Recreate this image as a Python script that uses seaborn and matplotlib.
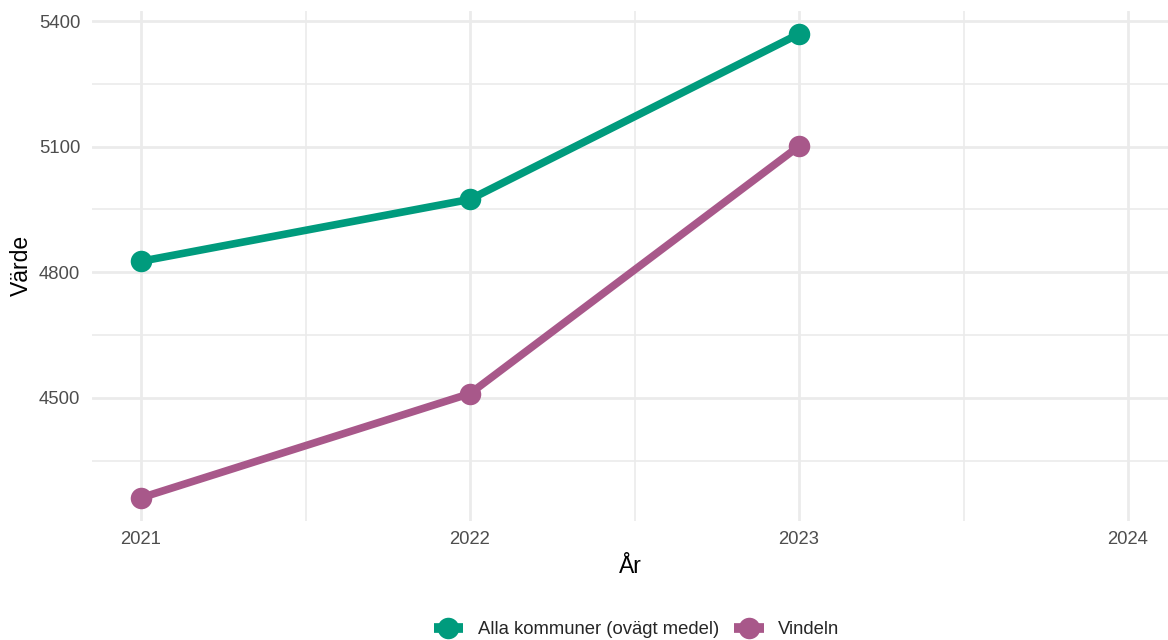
import matplotlib
matplotlib.use("Agg")
import matplotlib.pyplot as plt
import seaborn as sns
import pandas as pd
from matplotlib.ticker import FixedLocator
from matplotlib.lines import Line2D

years = [2021, 2022, 2023]
alla = [4826, 4974, 5369]
vindeln = [4261, 4510, 5101]
series_names = ["Alla kommuner (ovägt medel)", "Vindeln"]
colors = ["#009B7D", "#A8588A"]
x_ticks = [2021, 2022, 2023, 2024]
y_ticks = [4500, 4800, 5100, 5400]

df = pd.DataFrame({
    "År": years * 2,
    "Värde": alla + vindeln,
    "Serie": [series_names[0]] * 3 + [series_names[1]] * 3,
})

sns.set_theme(style="whitegrid")
plt.rcParams["font.family"] = ["Liberation Sans", "DejaVu Sans"]

fig = plt.figure(figsize=(11.68, 6.4), dpi=100)
ax = fig.add_axes([92 / 1168, 1 - 521 / 640, (1168 - 92) / 1168, (521 - 10.8) / 640])

sns.lineplot(data=df, x="År", y="Värde", hue="Serie", palette=colors,
             linewidth=5.5, marker="o", markersize=15.5, markeredgewidth=0,
             ax=ax, legend=False)

ax.set_xlim(2021 - 49 / 329, 2024 + 40 / 329)
ax.set_ylim(4205.6, 5424.4)
ax.xaxis.set_major_locator(FixedLocator(x_ticks))
ax.yaxis.set_major_locator(FixedLocator(y_ticks))
ax.xaxis.set_minor_locator(FixedLocator([2021.5, 2022.5, 2023.5]))
ax.yaxis.set_minor_locator(FixedLocator([4350, 4650, 4950, 5250]))
ax.set_xticklabels([str(t) for t in x_ticks])
ax.set_yticklabels([str(t) for t in y_ticks])

ax.grid(which="major", color="#EBEBEB", linewidth=2.0)
ax.grid(which="minor", color="#EBEBEB", linewidth=1.2)
ax.set_axisbelow(True)
for s in ax.spines.values():
    s.set_visible(False)
ax.tick_params(axis="both", which="both", length=0, labelsize=13.3, labelcolor="#4D4D4D")
ax.tick_params(axis="x", pad=7)
ax.tick_params(axis="y", pad=8.5)
ax.set_xlabel("År", fontsize=16.5, color="black", labelpad=5)
ax.set_ylabel("Värde", fontsize=16.5, color="black", labelpad=4.5)
ax.set_facecolor("white")

handles = [Line2D([0], [0], color=c, linewidth=7, marker="o", markersize=15.5,
                  markeredgewidth=0, solid_capstyle="butt") for c in colors]
fig.legend(handles, series_names, loc="center", bbox_to_anchor=(0.545, 1 - 630 / 640),
           ncol=2, frameon=False, fontsize=13.3, handlelength=1.6, columnspacing=0.8,
           handletextpad=0.8, borderpad=0.2)

fig.savefig("out.png", dpi=100, facecolor="white")
